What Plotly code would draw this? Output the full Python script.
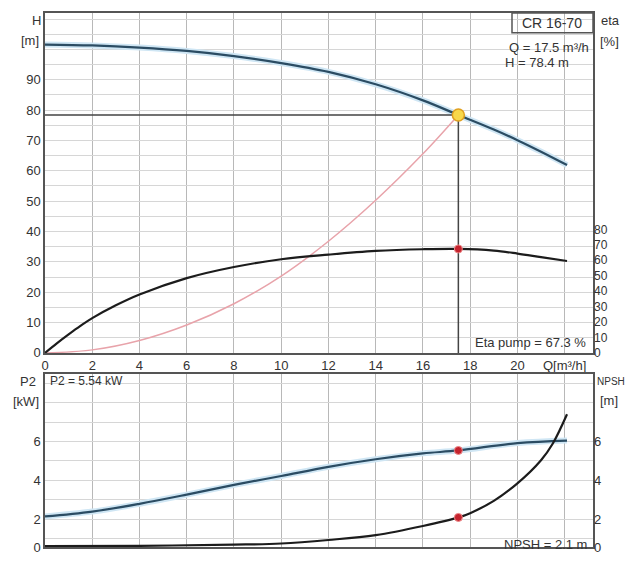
import plotly.graph_objects as go

# ---------------- data ----------------
# Pump curve H(Q)
q_head = [0, 2, 4, 6, 8, 10, 12, 14, 16, 17.5, 19, 20, 21, 22.1]
head = [101.6, 101.3, 100.6, 99.5, 97.8, 95.5, 92.6, 88.5, 83.2, 78.4, 73.6, 70.1, 66.3, 61.9]

# System curve
q_sys = [0, 2, 4, 6, 8, 10, 12, 14, 16, 17.5]
h_sys = [0, 1.0, 4.1, 9.2, 16.2, 25.3, 36.8, 50.3, 65.6, 78.4]

# Pump efficiency
q_eta = [0, 0.5, 1, 1.5, 2, 3, 4, 6, 8, 10, 12, 14, 16, 17.5, 19, 20, 21, 22.1]
eta = [0, 6.2, 12.0, 17.5, 22.5, 30.8, 37.8, 48.4, 55.6, 60.6, 63.6, 66.0, 67.1, 67.3, 66.2, 64.3, 62.0, 59.5]

# Power P2
q_p2 = [0, 2, 4, 6, 8, 10, 12, 14, 16, 17.5, 20, 22.1]
p2 = [2.15, 2.4, 2.8, 3.27, 3.77, 4.23, 4.7, 5.09, 5.39, 5.54, 5.92, 6.05]

# NPSH
q_npsh = [0, 4, 8, 10, 12, 14, 16, 17.5, 18, 19, 20, 21, 21.5, 22.1]
npsh = [0.62, 0.64, 0.70, 0.76, 0.94, 1.19, 1.66, 2.1, 2.32, 2.95, 3.85, 5.04, 5.9, 7.4]

# Duty point
duty_q = 17.5
duty_h = 78.4
duty_eta = 67.3
duty_p2 = 5.54
duty_npsh = 2.1

x_ticks = [0, 2, 4, 6, 8, 10, 12, 14, 16, 18, 20, 22]
x_ticktext = ["0", "2", "4", "6", "8", "10", "12", "14", "16", "18", "20", "Q[m³/h]"]
h_ticks = list(range(0, 115, 5))
h_ticktext = [str(v) if (v % 10 == 0 and v <= 90) else "" for v in h_ticks]
eta_ticks = list(range(0, 90, 10))
low_ticks = [0.58, 1, 2, 3, 4, 5, 6, 7, 8, 9]
low_ticktext = ["0", "", "2", "", "4", "", "6", "", "", ""]
npsh_ticks = [0.58, 2, 4, 6]
npsh_ticktext = ["0", "2", "4", "6"]

# ---------------- figure ----------------
W, Hh = 627, 566
ML, MR, MT, MB = 45, 34, 13, 11
PW, PH = W - ML - MR, Hh - MT - MB


def px(x):
    return (x - ML) / PW


def py(y):
    return (Hh - MB - y) / PH


top_dom = [py(358), 1]
bot_dom = [0, py(379)]

DARK = "#2b4c63"
GLOW = "#cfe6f4"
BLACK = "#1c1c1c"
LINE = "#555555"
FS = 13

fig = go.Figure()

fig.add_trace(go.Scatter(x=q_head, y=head, mode="lines", line=dict(color=GLOW, width=6, shape="spline"),
                         xaxis="x", yaxis="y", hoverinfo="skip"))
fig.add_trace(go.Scatter(x=q_head, y=head, mode="lines", line=dict(color=DARK, width=2.2, shape="spline"),
                         xaxis="x", yaxis="y", name="H"))
fig.add_trace(go.Scatter(x=q_sys, y=h_sys, mode="lines", line=dict(color="#e8a3aa", width=1.5, shape="spline"),
                         xaxis="x", yaxis="y", name="System"))
fig.add_trace(go.Scatter(x=[0, duty_q, duty_q], y=[duty_h, duty_h, 0], mode="lines",
                         line=dict(color="#444444", width=1.5), xaxis="x", yaxis="y", hoverinfo="skip"))
fig.add_trace(go.Scatter(x=q_eta, y=eta, mode="lines", line=dict(color=BLACK, width=2.2, shape="spline"),
                         xaxis="x", yaxis="y2", name="Eta"))
fig.add_trace(go.Scatter(x=[duty_q], y=[duty_eta], mode="markers",
                         marker=dict(color="#c4232e", size=8, line=dict(color="#e88", width=1)),
                         xaxis="x", yaxis="y2"))
fig.add_trace(go.Scatter(x=[duty_q], y=[duty_h], mode="markers",
                         marker=dict(color="#f8d84a", size=12, line=dict(color="#e0a020", width=1.5)),
                         xaxis="x", yaxis="y"))

fig.add_trace(go.Scatter(x=q_p2, y=p2, mode="lines", line=dict(color=GLOW, width=6, shape="spline"),
                         xaxis="x2", yaxis="y3", hoverinfo="skip"))
fig.add_trace(go.Scatter(x=q_p2, y=p2, mode="lines", line=dict(color=DARK, width=2.2, shape="spline"),
                         xaxis="x2", yaxis="y3", name="P2"))
fig.add_trace(go.Scatter(x=[duty_q], y=[duty_p2], mode="markers",
                         marker=dict(color="#c4232e", size=8, line=dict(color="#e88", width=1)),
                         xaxis="x2", yaxis="y3"))
fig.add_trace(go.Scatter(x=q_npsh, y=npsh, mode="lines", line=dict(color=BLACK, width=2.2, shape="spline"),
                         xaxis="x2", yaxis="y4", name="NPSH"))
fig.add_trace(go.Scatter(x=[duty_q], y=[duty_npsh], mode="markers",
                         marker=dict(color="#c4232e", size=8, line=dict(color="#e88", width=1)),
                         xaxis="x2", yaxis="y4"))

axis_common = dict(showline=True, linecolor=LINE, linewidth=1.5, zeroline=False, ticks="",
                   tickfont=dict(size=FS, color="#333"))

fig.update_layout(
    width=W, height=Hh,
    margin=dict(l=ML, r=MR, t=MT, b=MB),
    paper_bgcolor="white", plot_bgcolor="white",
    showlegend=False,
    font=dict(family="Arial, Liberation Sans, sans-serif", size=FS, color="#333"),
    xaxis=dict(domain=[0, 1], anchor="y", range=[0, 23.2], tickvals=x_ticks, ticktext=x_ticktext,
               showgrid=True, gridcolor="#b8b8b8", gridwidth=1, mirror=True, **axis_common),
    yaxis=dict(domain=top_dom, anchor="x", range=[0, 112], tickvals=h_ticks, ticktext=h_ticktext,
               showgrid=True, gridcolor="#d6d6d6", mirror=True, **axis_common),
    yaxis2=dict(overlaying="y", side="right", anchor="x", range=[0, 220], tickvals=eta_ticks,
                showgrid=False, showline=False, zeroline=False, ticks="", tickfont=dict(size=12, color="#333")),
    xaxis2=dict(domain=[0, 1], anchor="y3", range=[0, 23.2], tickvals=x_ticks, showticklabels=False,
                showgrid=True, gridcolor="#b8b8b8", mirror=True, **axis_common),
    yaxis3=dict(domain=bot_dom, anchor="x2", range=[0.58, 9.49], tickvals=low_ticks, ticktext=low_ticktext,
                showgrid=True, gridcolor="#d6d6d6", mirror=True, **axis_common),
    yaxis4=dict(overlaying="y3", side="right", anchor="x2", range=[0.58, 9.49], tickvals=npsh_ticks,
                ticktext=npsh_ticktext, showgrid=False, showline=False, zeroline=False, ticks="",
                tickfont=dict(size=FS, color="#333")),
)

ann = []


def text(x, y, t, xanchor="center", size=FS):
    ann.append(dict(x=px(x), y=py(y), xref="paper", yref="paper", text=t, showarrow=False,
                    xanchor=xanchor, yanchor="middle", font=dict(size=size, color="#333")))


text(36, 21, "H")
text(30, 41, "[m]")
text(610, 21, "eta")
text(609, 42, "[%]")
text(552, 23, "CR 16-70", size=14)
text(591, 48, "Q = 17.5 m³/h", xanchor="right")
text(503, 63, "H = 78.4 m", xanchor="left")
text(588, 347, "Eta pump = 67.3 %", xanchor="right")
text(28, 387, "P2")
text(26, 407, "[kW]")
text(48, 387, "P2 = 5.54 kW", xanchor="left", size=12)
text(595, 387, "NPSH", xanchor="left", size=10)
text(609, 406, "[m]")
text(589, 552, "NPSH = 2.1 m", xanchor="right")
fig.update_layout(annotations=ann)

fig.add_shape(type="rect", xref="paper", yref="paper", x0=px(512), x1=px(593), y0=py(33), y1=py(13),
              line=dict(color=LINE, width=1.5), fillcolor="rgba(0,0,0,0)")

fig.write_html("out.html", config={"displayModeBar": False},
               post_script="document.body.style.margin='0px';document.body.style.overflow='hidden';")
